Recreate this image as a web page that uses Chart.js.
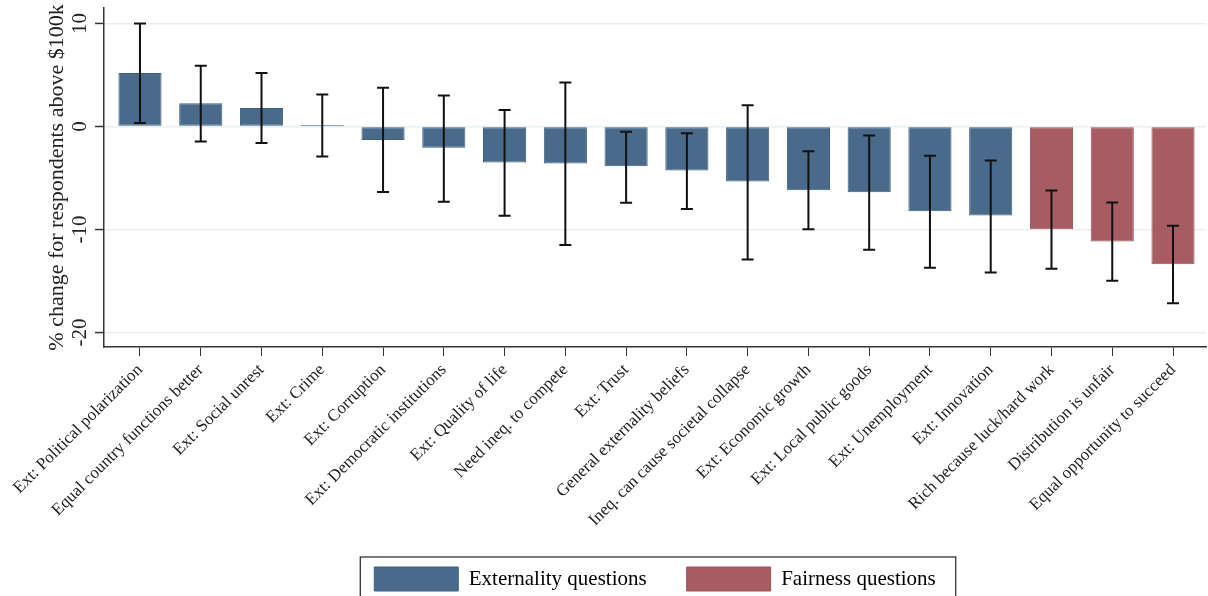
<!DOCTYPE html>
<html>
<head>
<meta charset="utf-8">
<script src="https://cdn.jsdelivr.net/npm/chart.js@4"></script>
<style>
  html, body { margin: 0; padding: 0; background: #fff; }
  #wrap { width: 1208px; height: 596px; }
</style>
</head>
<body>
<div id="wrap"><canvas id="chart"></canvas></div>
<script>
'use strict';

const categories = [
  'Ext: Political polarization', 'Equal country functions better', 'Ext: Social unrest',
  'Ext: Crime', 'Ext: Corruption', 'Ext: Democratic institutions', 'Ext: Quality of life',
  'Need ineq. to compete', 'Ext: Trust', 'General externality beliefs',
  'Ineq. can cause societal collapse', 'Ext: Economic growth', 'Ext: Local public goods',
  'Ext: Unemployment', 'Ext: Innovation', 'Rich because luck/hard work',
  'Distribution is unfair', 'Equal opportunity to succeed'
];
const values = [5.2, 2.26, 1.8, 0.15, -1.3, -2.07, -3.5, -3.6, -3.85, -4.27, -5.34, -6.18, -6.38, -8.22, -8.64, -9.97, -11.17, -13.37];
const ciLow = [0.35, -1.46, -1.6, -2.9, -6.35, -7.3, -8.67, -11.5, -7.4, -8.0, -12.9, -9.97, -11.97, -13.7, -14.17, -13.8, -14.98, -17.15];
const ciHigh = [10.0, 5.9, 5.2, 3.1, 3.75, 3.0, 1.6, 4.27, -0.52, -0.65, 2.07, -2.4, -0.87, -2.85, -3.3, -6.2, -7.38, -9.64];
const groups = ['ext', 'ext', 'ext', 'ext', 'ext', 'ext', 'ext', 'ext', 'ext', 'ext', 'ext', 'ext', 'ext', 'ext', 'ext', 'fair', 'fair', 'fair'];
const groupNames = ['Externality questions', 'Fairness questions'];
const yTicks = [-20, -10, 0, 10];

const blue = '#496a8b';
const red = '#a65c62';
const serif = '"Liberation Serif", "DejaVu Serif", serif';

// small inset of the categories inside the plot region, like the original
const insetPlot = {
  id: 'insetPlot',
  afterLayout(chart) {
    const x = chart.scales.x;
    x._startPixel = x.left + 5.6;
    x._endPixel = x.right - 2.6;
    x._length = x._endPixel - x._startPixel;
  }
};

const errorBars = {
  id: 'errorBars',
  afterDatasetsDraw(chart) {
    const ctx = chart.ctx;
    const meta = chart.getDatasetMeta(0);
    const y = chart.scales.y;
    ctx.save();
    ctx.strokeStyle = '#111';
    ctx.lineWidth = 2;
    meta.data.forEach((bar, i) => {
      const top = y.getPixelForValue(ciHigh[i]);
      const bot = y.getPixelForValue(ciLow[i]);
      ctx.beginPath();
      ctx.moveTo(bar.x, top);
      ctx.lineTo(bar.x, bot);
      ctx.moveTo(bar.x - 6, top);
      ctx.lineTo(bar.x + 6, top);
      ctx.moveTo(bar.x - 6, bot);
      ctx.lineTo(bar.x + 6, bot);
      ctx.stroke();
    });
    ctx.restore();
  }
};

// y tick labels are rotated like the original
const yLabels = {
  id: 'yLabels',
  afterDraw(chart) {
    const ctx = chart.ctx;
    const y = chart.scales.y;
    const left = chart.chartArea.left;
    ctx.save();
    ctx.strokeStyle = '#333';
    ctx.lineWidth = 1.5;
    ctx.fillStyle = '#222';
    ctx.font = '21px ' + serif;
    ctx.textAlign = 'center';
    ctx.textBaseline = 'middle';
    yTicks.forEach(v => {
      const py = y.getPixelForValue(v);
      ctx.beginPath();
      ctx.moveTo(left - 9, py);
      ctx.lineTo(left, py);
      ctx.stroke();
      ctx.save();
      ctx.translate(80, py);
      ctx.rotate(-Math.PI / 2);
      ctx.fillText(String(v), 0, 0);
      ctx.restore();
    });
    ctx.restore();
  }
};

const legendBox = {
  id: 'legendBox',
  afterDraw(chart) {
    const lg = chart.legend;
    if (!lg || !lg.legendHitBoxes.length) return;
    const first = lg.legendHitBoxes[0];
    const last = lg.legendHitBoxes[lg.legendHitBoxes.length - 1];
    const ctx = chart.ctx;
    ctx.save();
    ctx.strokeStyle = '#222';
    ctx.lineWidth = 1.2;
    ctx.strokeRect(first.left - 14, first.top - 10, last.left + last.width - first.left + 34, 60);
    ctx.restore();
  }
};

const canvasElem = document.getElementById('chart');

function renderChart() {
  const data = {
    labels: categories,
    datasets: [{
      data: values,
      backgroundColor: groups.map(g => g === 'ext' ? blue : red),
      borderColor: groups.map(g => g === 'ext' ? '#3f5f7e' : '#9a525a'),
      borderWidth: 1,
      borderSkipped: false,
      barPercentage: 0.71,
      categoryPercentage: 1
    }]
  };
  const config = {
    type: 'bar',
    data: data,
    plugins: [insetPlot, errorBars, yLabels, legendBox],
    options: {
      responsive: true,
      maintainAspectRatio: false,
      animation: false,
      layout: { padding: { top: 8, right: 2, left: 0, bottom: -5 } },
      plugins: {
        tooltip: { enabled: false },
        legend: {
          position: 'bottom',
          fullSize: false,
          labels: {
            boxWidth: 84,
            boxHeight: 24,
            padding: 40,
            color: '#222',
            font: { family: serif, size: 21 },
            generateLabels: () => groupNames.map((n, i) => ({
              text: n,
              fillStyle: i === 0 ? blue : red,
              strokeStyle: i === 0 ? '#3f5f7e' : '#9a525a',
              lineWidth: 1,
              hidden: false,
              datasetIndex: 0
            }))
          }
        }
      },
      scales: {
        x: {
          offset: true,
          grid: { display: true, offset: false, drawOnChartArea: false, drawTicks: true, tickLength: 9, tickColor: '#333' },
          border: { color: '#333', width: 1.5 },
          ticks: {
            autoSkip: false,
            minRotation: 45,
            maxRotation: 45,
            padding: 4,
            color: '#222',
            font: { family: serif, size: 17 }
          },
          afterFit: s => { s.height = 180; }
        },
        y: {
          min: -21.4,
          max: 11.5,
          afterBuildTicks: s => { s.ticks = yTicks.map(v => ({ value: v })); },
          grid: { color: '#e8eff2', lineWidth: 1.5, drawTicks: false },
          border: { color: '#333', width: 1.5 },
          ticks: { display: false },
          title: {
            display: true,
            text: '% change for respondents above $100k',
            color: '#222',
            font: { family: serif, size: 22 },
            padding: { top: 44, bottom: 0 }
          },
          afterFit: s => { s.width = 104; }
        }
      }
    }
  };
  let myChart = new Chart(canvasElem, config);
}

renderChart();
</script>
</body>
</html>
